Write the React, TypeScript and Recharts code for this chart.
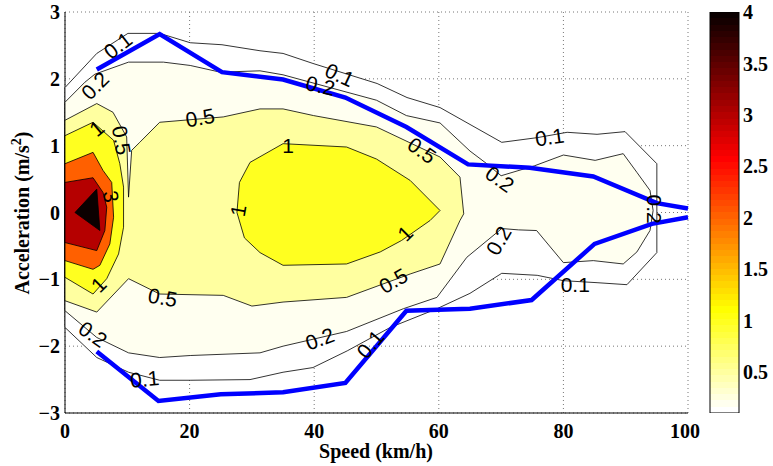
import { ComposedChart, Scatter, XAxis, YAxis, CartesianGrid, BarChart, Bar } from 'recharts';

type Pt = [number, number];

// contour polygons, [speed km/h, acceleration m/s2], walked round the outline
const level01: Pt[] = [
  [0, 1.87], [5.1, 2.38], [10.1, 2.68], [15.2, 2.68], [20.1, 2.54], [25.2, 2.51], [31.3, 2.42],
  [35, 2.38], [39.8, 2.23], [50.1, 1.93], [54.9, 1.72], [60.2, 1.57], [70.1, 1.05], [75.8, 1.12],
  [80.6, 1.2], [85.4, 1.17], [89.9, 1.21], [95, 0.73], [95, -0.6], [90.2, -1.08], [85.4, -1.05],
  [80, -1.02], [75.8, -0.94], [70.1, -0.91], [65, -1.21], [59.7, -1.44], [52.2, -1.72], [45.3, -2.07],
  [39.8, -2.32], [35, -2.39], [29.7, -2.5], [20.1, -2.51], [15.2, -2.51], [10.2, -2.39], [5.1, -2.17],
  [0, -1.72],
];
const level02: Pt[] = [
  [0, 1.65], [3.2, 1.95], [4.8, 2.07], [10.2, 2.25], [15.8, 2.25], [20.1, 2.2], [24.9, 2.1], [31.3, 2.12],
  [35, 2.06], [50, 1.68], [54.8, 1.45], [60.2, 1.34], [65, 0.92], [67.7, 0.73], [70, 0.55], [75.4, 0.7],
  [80, 0.86], [85.1, 0.78], [89.6, 0.88], [91.8, 0.6], [93.9, 0.33], [94.4, 0.03], [93.9, -0.27],
  [91.8, -0.59], [89.6, -0.77], [84.8, -0.72], [80, -0.75], [75.7, -0.27], [72.8, -0.26], [70.1, -0.24],
  [64.5, -0.67], [59.7, -1.27], [54.3, -1.44], [45.2, -1.78], [35, -2.0], [31.3, -2.1], [20.1, -2.14],
  [15.2, -2.17], [10.2, -2.1], [5.1, -1.87], [0, -1.47],
];
const level05: Pt[] = [
  [0, 1.38], [5.1, 1.63], [7.7, 1.5], [9.9, 1.13], [10.2, 0.23], [10.7, 0.93], [12, 1.05], [15.2, 1.35],
  [25.4, 1.43], [31.3, 1.55], [35, 1.55], [39.9, 1.45], [50, 1.28], [60.2, 0.83], [63.4, 0.53],
  [64, -0.02], [63.4, -0.12], [60.2, -0.77], [55.4, -0.92], [45.2, -1.27], [35, -1.34], [30, -1.4],
  [25.4, -1.24], [15.2, -1.22], [10.2, -0.99], [5.1, -1.49], [0, -1.32],
];
const level1Left: Pt[] = [
  [0, 1.15], [4.5, 1.35], [7.8, 1.08], [8.8, 0.73], [9.4, 0.38], [9.4, -0.22], [8.6, -0.62],
  [6.7, -0.99], [4.5, -1.22], [0, -0.97],
];
const level1Mid: Pt[] = [
  [29.7, 0.75], [35, 1.03], [45.2, 0.98], [50, 0.8], [55.4, 0.48], [60.2, 0.03], [58.6, -0.12],
  [54, -0.42], [50.6, -0.59], [45.2, -0.77], [35, -0.79], [31.3, -0.6], [28.8, -0.38], [27.6, 0.0],
  [28, 0.45],
];
const level2: Pt[] = [
  [0, 0.73], [4.5, 0.9], [6.1, 0.63], [7.5, 0.45], [7.8, -0.07], [7.2, -0.47], [5.6, -0.79],
  [4.5, -0.85], [0, -0.72],
];
const level3: Pt[] = [
  [0, 0.45], [4.5, 0.52], [6.1, 0.3], [6.7, 0.08], [6.4, -0.27], [5.1, -0.57], [0, -0.45],
];
const level4: Pt[] = [[1.6, 0.0], [5.1, 0.35], [5.6, -0.27]];

// the two blue envelope lines
const upperLimit: Pt[] = [
  [5.1, 2.14], [15.2, 2.67], [25.2, 2.1], [35, 1.99], [45, 1.72], [54.8, 1.28], [64.7, 0.72],
  [74.6, 0.67], [84.8, 0.54], [95, 0.14], [100, 0.06],
];
const lowerLimit: Pt[] = [
  [5.1, -2.08], [15, -2.82], [25, -2.72], [35, -2.69], [45, -2.55], [54.8, -1.47], [65, -1.44],
  [74.9, -1.31], [85, -0.47], [94.2, -0.17], [100, -0.07],
];

const labelText = ['0.1', '0.2', '0.5', '1', '0.5', '3', '1', '0.5', '0.2', '0.1', '1', '1', '1',
  '0.2', '0.1', '0.5', '0.2', '0.1', '0.2', '0.1', '0.5', '0.2', '0.1', '0.2'];
const labelAt: Pt[] = [
  [8.5, 2.5], [4.8, 1.9], [21.7, 1.42], [5.1, 1.26], [9.1, 1.08], [7.4, 0.24], [5.4, -1.08],
  [15.7, -1.27], [4.5, -1.82], [12.8, -2.49], [35.8, 1.0], [27.8, 0.03], [54.6, -0.31],
  [41, 1.9], [44.1, 2.06], [57.3, 0.93], [69.8, 0.5], [77.8, 1.13], [69.6, -0.42], [81.9, -1.07],
  [52.7, -1.02], [40.9, -1.89], [49, -1.97], [94.6, 0.05],
];
const labelAngle = [-38, -45, -10, -40, 80, 80, -45, 10, 35, -5, 0, -80, -45,
  12, 25, 35, 35, -8, -60, 0, -30, -20, -50, 90];

const xTicks = [0, 20, 40, 60, 80, 100];
const yTicks = [-3, -2, -1, 0, 1, 2, 3];
const cbTicks = [0.5, 1, 1.5, 2, 2.5, 3, 3.5, 4];
const cbRange = [0.1, 4];

const rows = (pts: Pt[]) => pts.map(([s, v]) => ({ s, v }));

const layers = [
  { id: 'l01', pts: level01, fill: '#ffffff' },
  { id: 'l02', pts: level02, fill: '#fffff0' },
  { id: 'l05', pts: level05, fill: '#ffffa0' },
  { id: 'l1a', pts: level1Left, fill: '#ffff20' },
  { id: 'l1b', pts: level1Mid, fill: '#ffff20' },
  { id: 'l2', pts: level2, fill: '#ff6000' },
  { id: 'l3', pts: level3, fill: '#b50000' },
  { id: 'l4', pts: level4, fill: '#0b0000' },
];

const labelRows = labelAt.map(([s, v], i) => ({ s, v, t: labelText[i], a: labelAngle[i] }));

// matlab "hot" map, flipped so that white sits at the bottom
function hot(k: number) {
  const c = (x: number) => Math.round(Math.min(1, Math.max(0, x)) * 255);
  return `rgb(${c(k / 24)},${c((k - 24) / 24)},${c((k - 48) / 16)})`;
}
const hotStops: { o: number; c: string }[] = [];
for (let i = 0; i < 64; i++) {
  hotStops.push({ o: i / 64, c: hot(i + 1) });
  hotStops.push({ o: (i + 1) / 64, c: hot(i + 1) });
}

const serif = 'Liberation Serif, Times New Roman, serif';
const tickStyle = { fill: '#000', fontSize: 20, fontWeight: 700, fontFamily: serif };
const noShape = () => <g />;

function polygon(fill: string) {
  return (props: any) => {
    const pts = (props.points || []) as { x: number; y: number }[];
    if (!pts.length) return <g />;
    const d = pts.map((p, i) => `${i ? 'L' : 'M'}${p.x},${p.y}`).join(' ') + ' Z';
    return <path d={d} fill={fill} stroke="#000" strokeWidth={0.8} strokeLinejoin="round" />;
  };
}

function ContourLabel(props: any) {
  const { cx, cy, payload } = props;
  if (cx == null || cy == null) return <g />;
  return (
    <text
      x={cx}
      y={cy}
      transform={`rotate(${payload.a} ${cx} ${cy})`}
      textAnchor="middle"
      dominantBaseline="central"
      fontFamily="Liberation Sans, Arial, sans-serif"
      fontSize={21}
      fill="#000"
    >
      {payload.t}
    </text>
  );
}

const fmt = (v: number) => (v < 0 ? `\u2212${-v}` : `${v}`);

export default function App() {
  return (
    <div style={{ position: 'absolute', left: 0, top: 0, width: 773, height: 466, background: '#fff' }}>
      <div style={{ position: 'absolute', left: 0, top: 0 }}>
        <ComposedChart width={700} height={466} margin={{ top: 12, right: 12, bottom: 23, left: 15 }}>
          <CartesianGrid stroke="#777" strokeDasharray="1 3" />
          <XAxis
            dataKey="s"
            type="number"
            domain={[0, 100]}
            ticks={xTicks}
            height={30}
            tickLine={false}
            tickSize={6}
            tickMargin={5}
            axisLine={{ stroke: '#000' }}
            tick={tickStyle}
          />
          <XAxis
            xAxisId="in"
            type="number"
            domain={[0, 100]}
            ticks={xTicks}
            allowDataOverflow
            mirror
            tick={false}
            tickSize={4}
            axisLine={false}
            tickLine={{ stroke: '#000' }}
          />
          <YAxis
            dataKey="v"
            type="number"
            domain={[-3, 3]}
            ticks={yTicks}
            width={50}
            tickLine={false}
            tickSize={3}
            tickMargin={2}
            tickFormatter={fmt}
            axisLine={{ stroke: '#000' }}
            tick={tickStyle}
          />
          <YAxis
            yAxisId="in"
            type="number"
            domain={[-3, 3]}
            ticks={yTicks}
            allowDataOverflow
            mirror
            tick={false}
            tickSize={4}
            axisLine={false}
            tickLine={{ stroke: '#000' }}
          />

          {layers.map((l) => (
            <Scatter
              key={l.id}
              data={rows(l.pts)}
              dataKey="v"
              line={polygon(l.fill)}
              shape={noShape}
              isAnimationActive={false}
            />
          ))}

          <Scatter
            data={rows(upperLimit)}
            dataKey="v"
            line={{ stroke: '#0000ff', strokeWidth: 4.5 }}
            shape={noShape}
            isAnimationActive={false}
          />
          <Scatter
            data={rows(lowerLimit)}
            dataKey="v"
            line={{ stroke: '#0000ff', strokeWidth: 4.5 }}
            shape={noShape}
            isAnimationActive={false}
          />

          <Scatter data={labelRows} dataKey="v" shape={ContourLabel} isAnimationActive={false} />

          <text x={376} y={458} textAnchor="middle" fontFamily={serif} fontSize={20} fontWeight={700}>
            Speed (km/h)
          </text>
          <text
            x={29}
            y={213}
            transform="rotate(-90 29 213)"
            textAnchor="middle"
            fontFamily={serif}
            fontSize={20}
            fontWeight={700}
          >
            <tspan>Acceleration (m/s</tspan>
            <tspan dy={-8} fontSize={14}>2</tspan>
            <tspan dy={8}>)</tspan>
          </text>
        </ComposedChart>
      </div>

      <div style={{ position: 'absolute', left: 700, top: 0 }}>
        <BarChart
          width={73}
          height={466}
          data={[{ k: 'cb', r: cbRange }]}
          margin={{ top: 12, right: 0, bottom: 53, left: 10 }}
          barCategoryGap={0}
        >
          <defs>
            <linearGradient id="hotGrad" x1="0" y1="0" x2="0" y2="1">
              {hotStops.map((st, i) => (
                <stop key={i} offset={st.o} stopColor={st.c} />
              ))}
            </linearGradient>
          </defs>
          <XAxis dataKey="k" hide />
          <YAxis
            yAxisId="cb"
            orientation="right"
            type="number"
            domain={cbRange}
            ticks={cbTicks}
            width={34}
            tickLine={false}
            axisLine={false}
            tickSize={2}
            tickMargin={2}
            tick={tickStyle}
            allowDataOverflow
          />
          <YAxis
            yAxisId="cbr"
            orientation="right"
            type="number"
            domain={cbRange}
            ticks={cbTicks}
            mirror
            width={6}
            tick={false}
            tickSize={4}
            axisLine={false}
            tickLine={{ stroke: '#000' }}
            allowDataOverflow
          />
          <YAxis
            yAxisId="cbl"
            orientation="left"
            type="number"
            domain={cbRange}
            ticks={cbTicks}
            mirror
            width={6}
            tick={false}
            tickSize={4}
            axisLine={false}
            tickLine={{ stroke: '#000' }}
            allowDataOverflow
          />
          <Bar yAxisId="cb" dataKey="r" fill="url(#hotGrad)" stroke="#000" strokeWidth={1} isAnimationActive={false} />
        </BarChart>
      </div>
    </div>
  );
}
